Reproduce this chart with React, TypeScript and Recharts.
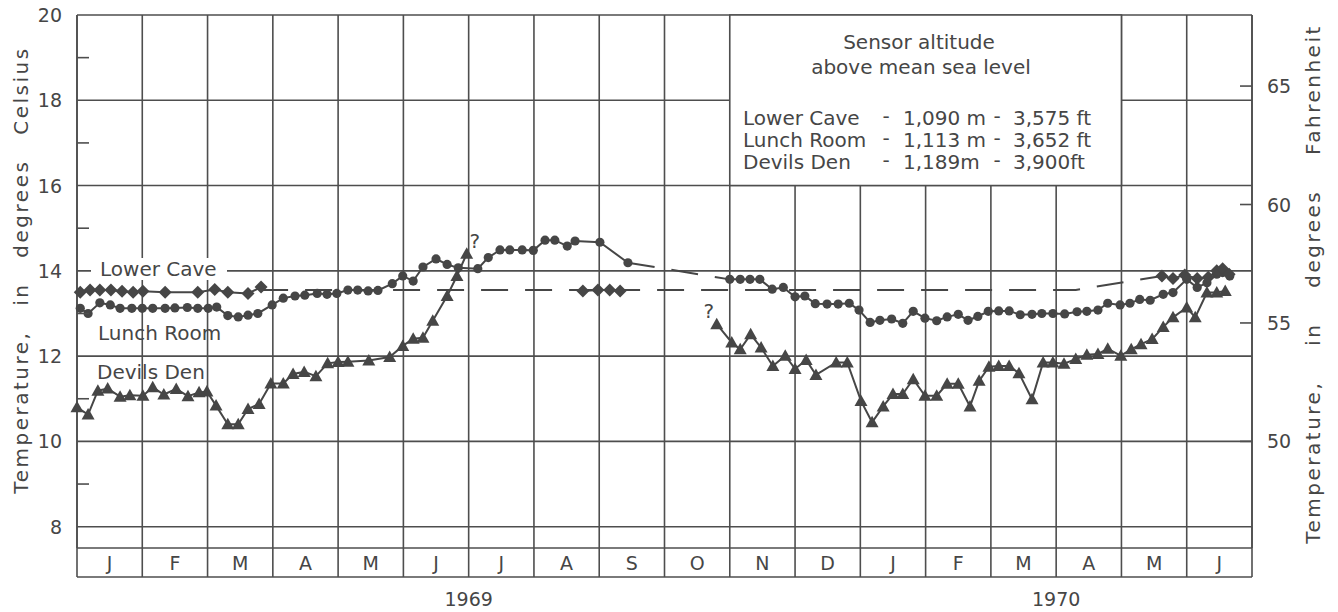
import React from 'react';
import { LineChart, Line, XAxis, YAxis, CartesianGrid, ReferenceArea, ReferenceDot } from 'recharts';

// x = months since 1 Jan 1969 (0..18), t = temperature in deg C
const MONTHS = ['J', 'F', 'M', 'A', 'M', 'J', 'J', 'A', 'S', 'O', 'N', 'D', 'J', 'F', 'M', 'A', 'M', 'J'];
const MONTH_BOUNDS = [0, 1, 2, 3, 4, 5, 6, 7, 8, 9, 10, 11, 12, 13, 14, 15, 16, 17, 18];
const YEAR_LABELS: Record<number, string> = { 6: '1969', 15: '1970' };
const CELSIUS_TICKS = [8, 9, 10, 11, 12, 13, 14, 15, 16, 17, 18, 19, 20];
const CELSIUS_GRID = [8, 10, 12, 14, 16, 18, 20];
const FAHRENHEIT_TICKS = [50, 55, 60, 65];

const lowerCaveA: [number, number][] = [
  [0.05, 13.5], [0.2, 13.55], [0.35, 13.55], [0.52, 13.55], [0.69, 13.52], [0.86, 13.5], [1.01, 13.52],
  [1.35, 13.5], [1.85, 13.5], [2.11, 13.56], [2.31, 13.5], [2.62, 13.47], [2.82, 13.62],
];
const lowerCaveB: [number, number][] = [[7.75, 13.53], [7.98, 13.55], [8.16, 13.55], [8.32, 13.53]];
const lowerCaveC: [number, number][] = [
  [16.62, 13.88], [16.79, 13.82], [16.97, 13.9], [17.16, 13.82], [17.33, 13.85], [17.46, 14.0], [17.55, 14.05], [17.65, 13.92],
];
const lowerCaveMissing: [number, number][] = [[2.82, 13.55], [7.75, 13.55], [8.32, 13.55], [15.3, 13.55], [16.62, 13.88]];

const lunchRoomA: [number, number][] = [
  [0.05, 13.12], [0.17, 13.0], [0.35, 13.25], [0.51, 13.2], [0.66, 13.12], [0.84, 13.12], [1.0, 13.12],
  [1.16, 13.12], [1.35, 13.12], [1.5, 13.13], [1.69, 13.14], [1.85, 13.12], [2.01, 13.12], [2.14, 13.15],
  [2.31, 12.95], [2.47, 12.92], [2.62, 12.96], [2.77, 13.0], [2.99, 13.2], [3.16, 13.36], [3.34, 13.41],
  [3.49, 13.43], [3.68, 13.47], [3.83, 13.45], [3.98, 13.47], [4.15, 13.55], [4.3, 13.55], [4.46, 13.53],
  [4.61, 13.54], [4.83, 13.7], [4.99, 13.88], [5.15, 13.76], [5.3, 14.09], [5.5, 14.28], [5.67, 14.15],
  [5.84, 14.07], [6.14, 14.05], [6.3, 14.31], [6.48, 14.49], [6.63, 14.49], [6.82, 14.49], [6.99, 14.48],
  [7.17, 14.72], [7.32, 14.72], [7.51, 14.58], [7.63, 14.7], [8.01, 14.67], [8.44, 14.19],
];
const lunchRoomMissing: [number, number][] = [[8.44, 14.19], [10.0, 13.8]];
const lunchRoomB: [number, number][] = [
  [10.0, 13.8], [10.16, 13.8], [10.31, 13.8], [10.46, 13.8], [10.65, 13.57], [10.82, 13.61], [11.0, 13.39],
  [11.15, 13.41], [11.31, 13.23], [11.49, 13.22], [11.66, 13.22], [11.83, 13.24], [11.98, 13.08], [12.15, 12.79],
  [12.3, 12.84], [12.48, 12.87], [12.65, 12.77], [12.81, 13.05], [12.99, 12.89], [13.17, 12.83], [13.33, 12.92],
  [13.5, 12.98], [13.65, 12.84], [13.8, 12.93], [13.96, 13.05], [14.12, 13.06], [14.28, 13.06], [14.45, 12.97],
  [14.63, 12.98], [14.78, 13.0], [14.95, 13.0], [15.13, 12.99], [15.32, 13.04], [15.47, 13.05], [15.64, 13.08],
  [15.79, 13.24], [15.98, 13.2], [16.13, 13.24], [16.28, 13.33], [16.44, 13.31], [16.64, 13.45], [16.79, 13.49],
  [17.0, 13.8], [17.16, 13.61], [17.31, 13.72], [17.46, 13.92], [17.55, 13.96], [17.66, 13.88],
];

const devilsDenA: [number, number][] = [
  [0.0, 10.8], [0.17, 10.63], [0.32, 11.19], [0.47, 11.24], [0.66, 11.05], [0.81, 11.08], [1.01, 11.07],
  [1.16, 11.27], [1.33, 11.1], [1.52, 11.23], [1.7, 11.06], [1.87, 11.15], [1.99, 11.17], [2.13, 10.84],
  [2.31, 10.4], [2.47, 10.4], [2.62, 10.76], [2.79, 10.88], [2.97, 11.36], [3.16, 11.36], [3.31, 11.58],
  [3.48, 11.63], [3.66, 11.53], [3.84, 11.83], [4.0, 11.86], [4.15, 11.87], [4.47, 11.9], [4.79, 11.98],
  [4.99, 12.24], [5.15, 12.41], [5.3, 12.43], [5.45, 12.83], [5.67, 13.41], [5.82, 13.88], [5.97, 14.4],
];
const devilsDenB: [number, number][] = [
  [9.8, 12.75], [10.03, 12.32], [10.16, 12.16], [10.32, 12.51], [10.48, 12.2], [10.66, 11.77], [10.85, 12.01],
  [11.0, 11.7], [11.17, 11.91], [11.32, 11.56], [11.63, 11.85], [11.8, 11.85], [12.01, 10.95], [12.18, 10.45],
  [12.35, 10.82], [12.5, 11.11], [12.65, 11.11], [12.81, 11.46], [12.99, 11.07], [13.17, 11.07], [13.33, 11.35],
  [13.5, 11.35], [13.68, 10.82], [13.82, 11.42], [13.97, 11.75], [14.12, 11.77], [14.28, 11.77], [14.43, 11.6],
  [14.63, 10.99], [14.8, 11.85], [14.95, 11.85], [15.12, 11.82], [15.3, 11.93], [15.47, 12.03], [15.64, 12.05],
  [15.79, 12.17], [15.99, 12.01], [16.15, 12.16], [16.3, 12.28], [16.47, 12.4], [16.64, 12.68], [16.79, 12.91],
  [17.0, 13.14], [17.13, 12.91], [17.31, 13.49], [17.46, 13.49], [17.59, 13.53],
];

// doubtful readings marked with "?"
const doubtful: [number, number, number][] = [[5.97, 14.4, 1], [9.8, 12.75, -1]];

const LEGEND_ROWS = [
  ['Lower Cave', '1,090 m', '3,575 ft'],
  ['Lunch Room', '1,113 m', '3,652 ft'],
  ['Devils Den', '1,189m', '3,900ft'],
];

const INK = '#464646';
const GRID = '#4e4e4e';
const FONT = '"DejaVu Sans", sans-serif';
const PLOT_W = 1175;
const MONTH_W = PLOT_W / 18;

const pts = (a: [number, number][]) => a.map(([m, t]) => ({ m, t }));

const Diamond = (p: any) => {
  const { cx, cy, index } = p;
  if (cx == null || cy == null) return <g key={index} />;
  return <path key={index} d={`M${cx},${cy - 6.5}L${cx + 6.5},${cy}L${cx},${cy + 6.5}L${cx - 6.5},${cy}Z`} fill={INK} />;
};
const Dot = (p: any) => {
  const { cx, cy, index } = p;
  if (cx == null || cy == null) return <g key={index} />;
  return <circle key={index} cx={cx} cy={cy} r={4.6} fill={INK} />;
};
const Triangle = (p: any) => {
  const { cx, cy, index } = p;
  if (cx == null || cy == null) return <g key={index} />;
  return <path key={index} d={`M${cx},${cy - 6.5}L${cx + 6.5},${cy + 5}L${cx - 6.5},${cy + 5}Z`} fill={INK} />;
};

const CelsiusTick = ({ x, y, payload }: any) => {
  const v = payload.value;
  if (v % 2 !== 0) return <line x1={x} y1={y} x2={x + 12} y2={y} stroke={GRID} strokeWidth={1.6} />;
  return (
    <text x={x - 15} y={y} textAnchor="end" dominantBaseline="central" fontSize={19} fill={INK} fontFamily={FONT}>
      {v}
    </text>
  );
};

const FahrenheitTick = ({ x, y, payload }: any) => (
  <g>
    <line x1={x - 12} y1={y} x2={x} y2={y} stroke={GRID} strokeWidth={1.6} />
    <text x={x + 15} y={y} textAnchor="start" dominantBaseline="central" fontSize={19} fill={INK} fontFamily={FONT}>
      {payload.value}
    </text>
  </g>
);

const MonthTick = ({ x, y, payload }: any) => {
  const i = payload.value;
  return (
    <g>
      <line x1={x} y1={y} x2={x} y2={y + 29} stroke={GRID} strokeWidth={1.6} />
      {i === 0 && <line x1={x} y1={y + 29} x2={x + PLOT_W} y2={y + 29} stroke={GRID} strokeWidth={1.6} />}
      {i < 18 && (
        <text x={x + MONTH_W / 2} y={y + 15} textAnchor="middle" dominantBaseline="central" fontSize={19} fill={INK} fontFamily={FONT}>
          {MONTHS[i]}
        </text>
      )}
      {YEAR_LABELS[i] && (
        <text x={x} y={y + 51} textAnchor="middle" dominantBaseline="central" fontSize={19} fill={INK} fontFamily={FONT}>
          {YEAR_LABELS[i]}
        </text>
      )}
    </g>
  );
};

const line = (key: string, data: [number, number][], shape: any, dashed = false) => (
  <Line
    key={key}
    type="linear"
    data={pts(data)}
    dataKey="t"
    stroke={INK}
    strokeWidth={2}
    strokeDasharray={dashed ? '27 17' : undefined}
    dot={shape}
    activeDot={false}
    isAnimationActive={false}
  />
);

const txt = { fontFamily: FONT, fontSize: 20, fill: INK } as const;

export default function App() {
  return (
    <div style={{ position: 'absolute', left: 0, top: 0, width: 1338, height: 612, background: '#fff' }}>
      <LineChart width={1338} height={612} margin={{ top: 15, right: 0, bottom: 0, left: 0 }}>
        <CartesianGrid stroke={GRID} strokeWidth={1.6} horizontalValues={CELSIUS_GRID} verticalValues={MONTH_BOUNDS} />
        <XAxis
          type="number"
          dataKey="m"
          domain={[0, 18]}
          ticks={MONTH_BOUNDS}
          interval={0}
          height={64}
          tickSize={0}
          tickMargin={0}
          tickLine={false}
          axisLine={{ stroke: GRID, strokeWidth: 1.6 }}
          tick={<MonthTick />}
        />
        <YAxis
          type="number"
          domain={[7.5, 20]}
          ticks={CELSIUS_TICKS}
          interval={0}
          width={77}
          tickSize={0}
          tickMargin={0}
          tickLine={false}
          axisLine={{ stroke: GRID, strokeWidth: 1.6 }}
          tick={<CelsiusTick />}
        />
        <YAxis
          yAxisId="f"
          orientation="right"
          type="number"
          domain={[45.5, 68]}
          allowDataOverflow
          ticks={FAHRENHEIT_TICKS}
          interval={0}
          width={86}
          tickSize={0}
          tickMargin={0}
          tickLine={false}
          axisLine={{ stroke: GRID, strokeWidth: 1.6 }}
          tick={<FahrenheitTick />}
        />
        <ReferenceArea x1={10} x2={16} y1={16} y2={20} fill="#fff" fillOpacity={1} stroke={GRID} strokeWidth={1.6} />
        {line('lcMissing', lowerCaveMissing, false, true)}
        {line('lrMissing', lunchRoomMissing, false, true)}
        {line('ddA', devilsDenA, Triangle)}
        {line('ddB', devilsDenB, Triangle)}
        {line('lrA', lunchRoomA, Dot)}
        {line('lrB', lunchRoomB, Dot)}
        {line('lcA', lowerCaveA, Diamond)}
        {line('lcB', lowerCaveB, Diamond)}
        {line('lcC', lowerCaveC, Diamond)}
        {doubtful.map(([m, t, side], i) => (
          <ReferenceDot
            key={i}
            x={m}
            y={t}
            r={0}
            shape={(p: any) => (
              <text x={p.cx + side * 8} y={p.cy - 13} textAnchor="middle" dominantBaseline="central" {...txt}>
                ?
              </text>
            )}
          />
        ))}
      </LineChart>
      <svg width={1338} height={612} style={{ position: 'absolute', left: 0, top: 0, pointerEvents: 'none' }}>
        <text
          transform="translate(21,270) rotate(-90)"
          textAnchor="middle"
          dominantBaseline="central"
          letterSpacing={2.5}
          wordSpacing={16}
          {...txt}
        >
          Temperature, in degrees Celsius
        </text>
        <text
          transform="translate(1313,284) rotate(-90)"
          textAnchor="middle"
          dominantBaseline="central"
          letterSpacing={2.5}
          wordSpacing={26}
          {...txt}
        >
          Temperature, in degrees Fahrenheit
        </text>
        <rect x={91} y={258} width={136} height={22} fill="#fff" />
        <text x={100} y={269} dominantBaseline="central" {...txt}>Lower Cave</text>
        <text x={98} y={333} dominantBaseline="central" {...txt}>Lunch Room</text>
        <text x={97} y={372} dominantBaseline="central" {...txt}>Devils Den</text>
        <text x={919} y={42} textAnchor="middle" dominantBaseline="central" {...txt}>Sensor altitude</text>
        <text x={921} y={67} textAnchor="middle" dominantBaseline="central" {...txt}>above mean sea level</text>
        {LEGEND_ROWS.map(([name, m, ft], i) => (
          <g key={name}>
            <text x={743} y={118 + i * 22} dominantBaseline="central" {...txt}>{name}</text>
            <text x={886} y={116 + i * 22} textAnchor="middle" dominantBaseline="central" {...txt}>-</text>
            <text x={903} y={118 + i * 22} dominantBaseline="central" {...txt}>{m}</text>
            <text x={997} y={116 + i * 22} textAnchor="middle" dominantBaseline="central" {...txt}>-</text>
            <text x={1013} y={118 + i * 22} dominantBaseline="central" {...txt}>{ft}</text>
          </g>
        ))}
      </svg>
    </div>
  );
}
